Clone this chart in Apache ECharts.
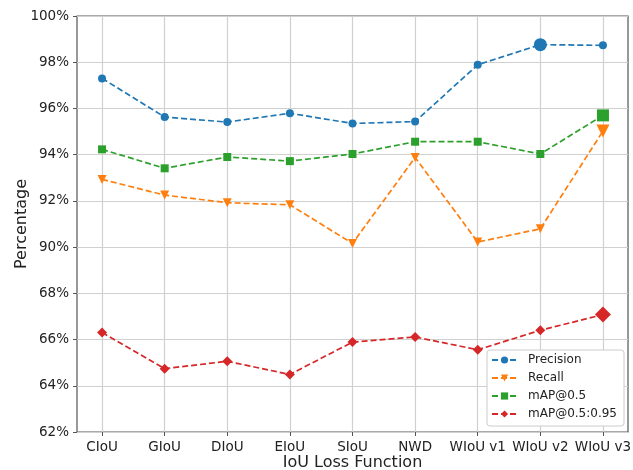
<!DOCTYPE html>
<html>
<head>
<meta charset="utf-8">
<script src="https://cdn.jsdelivr.net/npm/echarts@6/dist/echarts.min.js"></script>
<style>
html, body { margin: 0; padding: 0; background: #fff; }
#chart { width: 633px; height: 470px; }
</style>
</head>
<body>
<div id="chart"></div>
<script>
// 横轴类别
const categories = ['CIoU', 'GIoU', 'DIoU', 'EIoU', 'SIoU', 'NWD', 'WIoU v1', 'WIoU v2', 'WIoU v3'];
// 各指标数值 (%)
const precision = [97.30, 95.63, 95.41, 95.79, 95.35, 95.43, 97.89, 98.76, 98.73];
const recall = [92.93, 92.25, 91.92, 91.83, 90.16, 93.88, 90.22, 90.79, 95.02];
const map50 = [94.23, 93.41, 93.90, 93.72, 94.03, 94.56, 94.56, 94.03, 95.70];
const map5095 = [66.31, 64.74, 65.06, 64.49, 65.89, 66.11, 65.56, 66.40, 67.08];
// 纵轴刻度 (断轴: 68% 之后直接到 90%)
const yTicks = [62, 64, 66, 68, 90, 92, 94, 96, 98, 100];
// 放大显示的点
const bigIndex = { precision: 7, recall: 8, map50: 8, map5095: 8 };

// 断轴映射: 90% 以上的值下移 20
function toAxis(v) { return v >= 90 ? v - 20 : v; }
function fromAxis(v) { return v >= 70 ? v + 20 : v; }

const font = 'DejaVu Sans';

function makeSeries(name, values, color, symbol, size, bigSize, big) {
  return {
    name: name,
    type: 'line',
    symbol: symbol,
    symbolSize: size,
    color: color,
    lineStyle: { color: color, width: 1.7, type: [6, 3] },
    itemStyle: { color: color },
    data: values.map(function (v, i) {
      const p = { value: [i, toAxis(v)] };
      if (i === big) p.symbolSize = bigSize;
      return p;
    })
  };
}

const myChart = echarts.init(document.getElementById('chart'));
const option = {
  animation: false,
  textStyle: { fontFamily: font },
  grid: {
    left: 77, right: 5, top: 16, bottom: 38,
    outerBoundsMode: 'none',
    containLabel: false,
    show: true, borderColor: '#555', borderWidth: 1.2
  },
  xAxis: {
    type: 'value',
    min: -0.4, max: 8.4,
    name: 'IoU Loss Function',
    nameLocation: 'middle',
    nameGap: 23,
    nameMoveOverlap: false,
    nameTextStyle: { fontSize: 16, color: '#222', fontFamily: font },
    axisLine: { show: false, onZero: false },
    axisTick: { show: true, length: 4, lineStyle: { color: '#555' }, customValues: categories.map(function (c, i) { return i; }) },
    axisLabel: {
      fontSize: 13.5, color: '#222', fontFamily: font, margin: 8,
      customValues: categories.map(function (c, i) { return i; }),
      formatter: function (v) { return categories[Math.round(v)]; }
    },
    splitLine: { show: true, lineStyle: { color: '#d0d0d0', width: 1.2 } }
  },
  yAxis: {
    type: 'value',
    min: 62, max: 80, interval: 2,
    name: 'Percentage',
    nameLocation: 'middle',
    nameGap: 47,
    nameMoveOverlap: false,
    nameTextStyle: { fontSize: 16, color: '#222', fontFamily: font },
    axisLine: { show: false, onZero: false },
    axisTick: { show: true, length: 4, lineStyle: { color: '#555' } },
    axisLabel: {
      fontSize: 13.5, color: '#222', fontFamily: font, margin: 8,
      formatter: function (v) { return fromAxis(v) + '%'; }
    },
    splitLine: { show: true, lineStyle: { color: '#d0d0d0', width: 1.2 } }
  },
  legend: {
    orient: 'vertical',
    right: 9, bottom: 44,
    backgroundColor: '#fff',
    borderColor: '#ccc', borderWidth: 1, borderRadius: 3,
    padding: [4, 7, 6, 4],
    itemGap: 6,
    itemWidth: 25, itemHeight: 9,
    textStyle: { fontSize: 12, color: '#222', fontFamily: font, padding: [0, 0, 0, 6] },
    data: ['Precision', 'Recall', 'mAP@0.5', 'mAP@0.5:0.95']
  },
  series: [
    makeSeries('Precision', precision, '#1f77b4', 'circle', 8, 13, bigIndex.precision),
    makeSeries('Recall', recall, '#ff7f0e', 'path://M0,0 L10,0 L5,9 Z', 9, 13, bigIndex.recall),
    makeSeries('mAP@0.5', map50, '#2ca02c', 'rect', 8, 12, bigIndex.map50),
    makeSeries('mAP@0.5:0.95', map5095, '#d62728', 'diamond', 10, 16, bigIndex.map5095)
  ]
};
myChart.setOption(option);
</script>
</body>
</html>
